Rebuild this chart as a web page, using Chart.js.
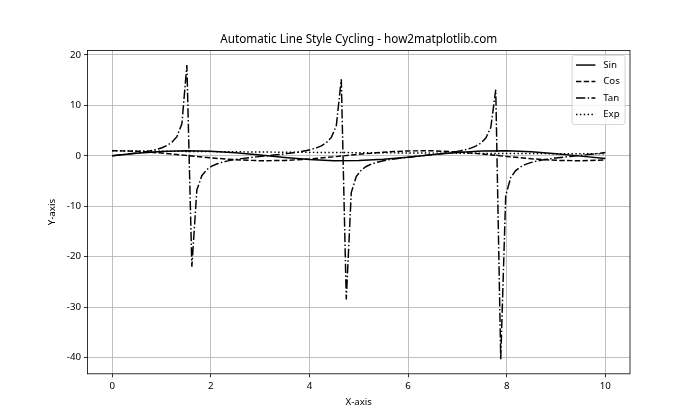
<!DOCTYPE html>
<html>
<head>
<meta charset="utf-8">
<script src="https://cdn.jsdelivr.net/npm/chart.js@4.4.0/dist/chart.umd.min.js"></script>
<style>
  html, body { margin: 0; padding: 0; background: #fff; }
</style>
</head>
<body>
<canvas id="chart" width="700" height="420"></canvas>
<script>
// ---- data ----
const titleText = "Automatic Line Style Cycling - how2matplotlib.com";
const seriesNames = ["Sin", "Cos", "Tan", "Exp"];

// smooth curves, sampled every 0.5
const smoothX = [0, 0.5, 1, 1.5, 2, 2.5, 3, 3.5, 4, 4.5, 5, 5.5, 6, 6.5, 7, 7.5, 8, 8.5, 9, 9.5, 10];
const sinVals = [0, 0.48, 0.84, 1.0, 0.91, 0.6, 0.14, -0.35, -0.76, -0.98, -0.96, -0.71, -0.28, 0.22, 0.66, 0.94, 0.99, 0.8, 0.41, -0.08, -0.54];
const cosVals = [1, 0.88, 0.54, 0.07, -0.42, -0.8, -0.99, -0.94, -0.65, -0.21, 0.28, 0.71, 0.96, 0.98, 0.75, 0.35, -0.15, -0.6, -0.91, -1.0, -0.84];
const expVals = [1, 0.95, 0.9, 0.86, 0.82, 0.78, 0.74, 0.7, 0.67, 0.64, 0.61, 0.58, 0.55, 0.52, 0.5, 0.47, 0.45, 0.43, 0.41, 0.39, 0.37];

// tan needs the fine sampling around its poles
const tanX = [
  0.000, 0.101, 0.202, 0.303, 0.404, 0.505, 0.606, 0.707, 0.808, 0.909,
  1.010, 1.111, 1.212, 1.313, 1.414, 1.515, 1.616, 1.717, 1.818, 1.919,
  2.020, 2.121, 2.222, 2.323, 2.424, 2.525, 2.626, 2.727, 2.828, 2.929,
  3.030, 3.131, 3.232, 3.333, 3.434, 3.535, 3.636, 3.737, 3.838, 3.939,
  4.040, 4.141, 4.242, 4.343, 4.444, 4.545, 4.646, 4.747, 4.848, 4.949,
  5.051, 5.152, 5.253, 5.354, 5.455, 5.556, 5.657, 5.758, 5.859, 5.960,
  6.061, 6.162, 6.263, 6.364, 6.465, 6.566, 6.667, 6.768, 6.869, 6.970,
  7.071, 7.172, 7.273, 7.374, 7.475, 7.576, 7.677, 7.778, 7.879, 7.980,
  8.081, 8.182, 8.283, 8.384, 8.485, 8.586, 8.687, 8.788, 8.889, 8.990,
  9.091, 9.192, 9.293, 9.394, 9.495, 9.596, 9.697, 9.798, 9.899, 10.000
];
const tanVals = [
  0, 0.10, 0.20, 0.31, 0.43, 0.55, 0.69, 0.85, 1.05, 1.28,
  1.59, 2.02, 2.67, 3.79, 6.33, 17.97, -22.01, -6.78, -3.96, -2.75,
  -2.07, -1.63, -1.31, -1.07, -0.87, -0.71, -0.57, -0.44, -0.32, -0.22,
  -0.11, -0.01, 0.09, 0.19, 0.30, 0.42, 0.54, 0.68, 0.84, 1.03,
  1.26, 1.56, 1.97, 2.59, 3.64, 5.94, 15.15, -28.48, -7.30, -4.14,
  -2.84, -2.13, -1.67, -1.34, -1.09, -0.89, -0.72, -0.58, -0.45, -0.34,
  -0.23, -0.12, -0.02, 0.08, 0.18, 0.29, 0.40, 0.53, 0.66, 0.82,
  1.00, 1.23, 1.52, 1.92, 2.51, 3.50, 5.58, 13.10, -40.31, -7.91,
  -4.33, -2.94, -2.19, -1.71, -1.37, -1.11, -0.91, -0.74, -0.59, -0.46,
  -0.35, -0.24, -0.13, -0.03, 0.07, 0.17, 0.28, 0.39, 0.51, 0.65
];

const xTicks = [0, 2, 4, 6, 8, 10];
const yTicks = [-40, -30, -20, -10, 0, 10, 20];

// ---- look ----
const FONT = "'Noto Sans', 'Open Sans', sans-serif";
const LW = 1.46;
const dashStyles = [[], [5.4, 2.33], [9.33, 2.33, 1.46, 2.33], [1.46, 2.4]];

const pts = (xs, ys) => xs.map((x, i) => ({ x: x, y: ys[i] }));
const allSeries = [pts(smoothX, sinVals), pts(smoothX, cosVals), pts(tanX, tanVals), pts(smoothX, expVals)];

// title centred over the plot, spines on all four sides, legend in the corner
const decorations = {
  id: "decorations",
  afterDraw(chart) {
    const { ctx, chartArea: a } = chart;
    ctx.save();
    ctx.fillStyle = "#000";
    ctx.font = "11.7px " + FONT;
    ctx.textAlign = "center";
    ctx.textBaseline = "middle";
    ctx.fillText(titleText, (a.left + a.right) / 2, 40);

    ctx.strokeStyle = "#000";
    ctx.lineWidth = 0.8;
    ctx.setLineDash([]);
    ctx.strokeRect(a.left, a.top, a.right - a.left, a.bottom - a.top);

    // legend
    const bw = 53, rowH = 16.5;
    const bx = a.right - 4.9 - bw, by = a.top + 4.9;
    const bh = 3.9 * 2 + rowH * 4 - 4.86 + 0.3;
    ctx.fillStyle = "rgba(255,255,255,0.8)";
    ctx.strokeStyle = "#cccccc";
    ctx.lineWidth = 0.8;
    ctx.beginPath();
    ctx.roundRect(bx, by, bw, bh, 2.5);
    ctx.fill();
    ctx.stroke();
    ctx.font = "9.7px " + FONT;
    ctx.textAlign = "left";
    chart.data.datasets.forEach((ds, i) => {
      const cy = by + 3.9 + 5.85 + i * rowH;
      ctx.strokeStyle = "#000";
      ctx.lineWidth = LW;
      ctx.setLineDash(ds.borderDash);
      ctx.beginPath();
      ctx.moveTo(bx + 3.9, cy);
      ctx.lineTo(bx + 3.9 + 19.4, cy);
      ctx.stroke();
      ctx.setLineDash([]);
      ctx.fillStyle = "#000";
      ctx.fillText(ds.label, bx + 3.9 + 19.4 + 7.8, cy);
    });
    ctx.restore();
  }
};

const axisCommon = {
  type: "linear",
  border: { display: false },
  grid: { color: "#b0b0b0", lineWidth: 0.8, tickLength: 3.5, tickColor: "#000", tickWidth: 0.8 },
  ticks: { color: "#000", padding: 3, autoSkip: false, maxRotation: 0, font: { family: FONT, size: 9.7 } }
};

new Chart(document.getElementById("chart"), {
  type: "line",
  data: {
    datasets: seriesNames.map((name, i) => ({
      label: name,
      data: allSeries[i],
      borderColor: "#000",
      borderWidth: LW,
      borderDash: dashStyles[i],
      pointRadius: 0,
      tension: 0,
      fill: false
    }))
  },
  options: {
    responsive: false,
    animation: false,
    layout: { padding: { left: 0, top: 50.4, right: 70, bottom: 0 } },
    plugins: { legend: { display: false }, title: { display: false }, tooltip: { enabled: false } },
    scales: {
      x: {
        ...axisCommon,
        min: -0.5,
        max: 10.5,
        afterBuildTicks: s => { s.ticks = xTicks.map(v => ({ value: v })); },
        afterFit: s => { s.height = 46.2; },
        title: { display: true, text: "X-axis", color: "#000", padding: { top: 0, bottom: 12 }, font: { family: FONT, size: 9.7 } }
      },
      y: {
        ...axisCommon,
        min: -43.22,
        max: 20.88,
        afterBuildTicks: s => { s.ticks = yTicks.map(v => ({ value: v })); },
        afterFit: s => { s.width = 87.5; },
        title: { display: true, text: "Y-axis", color: "#000", padding: { top: 46, bottom: 0 }, font: { family: FONT, size: 9.7 } }
      }
    }
  },
  plugins: [decorations]
});
</script>
</body>
</html>
